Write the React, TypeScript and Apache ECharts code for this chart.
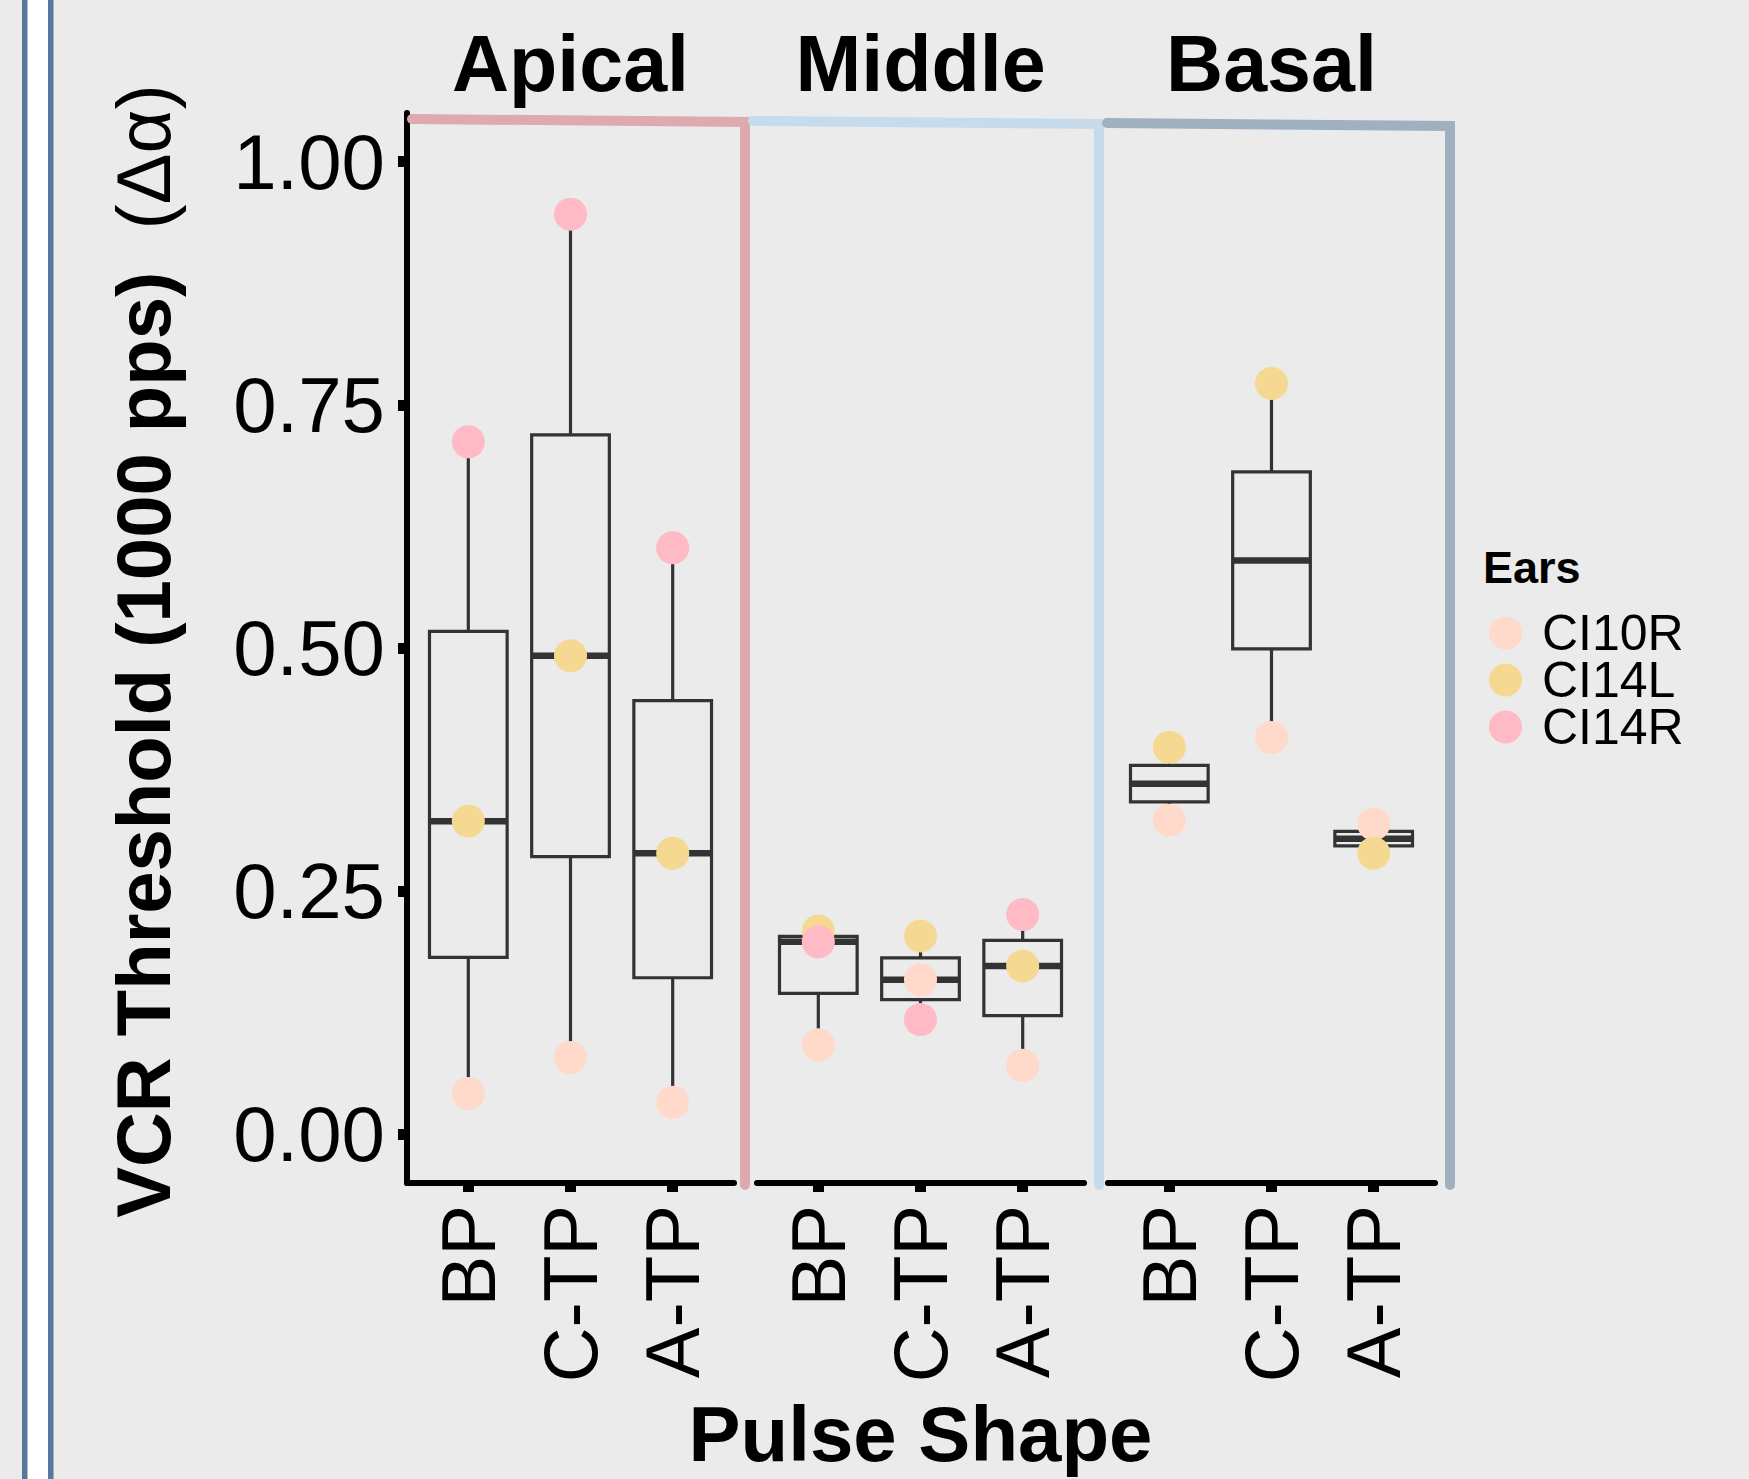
import React, { useEffect, useRef } from 'react';
import * as echarts from 'echarts';

// ---------- data ----------
const regions = ['Apical', 'Middle', 'Basal'];
const shapes = ['BP', 'C-TP', 'A-TP'];
const ears = ['CI10R', 'CI14L', 'CI14R'];
const earColors = ['#FFD9C9', '#F5D992', '#FFBAC5'];
const yTicks = [0, 0.25, 0.5, 0.75, 1];

// values by [region][pulse shape]
const ci10r = [
  [0.042, 0.079, 0.033],
  [0.092, 0.159, 0.071],
  [0.323, 0.408, 0.319],
];
const ci14l = [
  [0.322, 0.492, 0.289],
  [0.209, 0.204, 0.173],
  [0.398, 0.772, 0.289],
];
const ci14r = [
  [0.712, 0.946, 0.603],
  [0.198, 0.118, 0.226],
  [null, null, null],
];
const earValues = [ci10r, ci14l, ci14r];

// ---------- layout / style ----------
const W = 1749;
const H = 1479;
const FONT = '"Liberation Sans", Arial, Helvetica, sans-serif';
const panelLeft = [407, 757, 1108];
const panelWidth = 327;
const gridTop = 113;
const gridHeight = 1070;
const stripColors = ['#DFA9B2', '#C6DCEC', '#9FB0C1'];
const BOX_W = 0.76;

function quantile(sorted: number[], p: number) {
  const h = (sorted.length - 1) * p;
  const lo = Math.floor(h);
  const hi = Math.min(lo + 1, sorted.length - 1);
  return sorted[lo] + (h - lo) * (sorted[hi] - sorted[lo]);
}

function boxStats(r: number, s: number) {
  const vals = earValues
    .map((arr) => arr[r][s])
    .filter((v) => v !== null && v !== undefined) as number[];
  vals.sort((a, b) => a - b);
  return [
    s + 1,
    vals[0],
    quantile(vals, 0.25),
    quantile(vals, 0.5),
    quantile(vals, 0.75),
    vals[vals.length - 1],
  ];
}

function renderBox(params: any, api: any) {
  const x = api.value(0);
  const lo = api.coord([x, api.value(1)]);
  const q1 = api.coord([x, api.value(2)]);
  const md = api.coord([x, api.value(3)]);
  const q3 = api.coord([x, api.value(4)]);
  const hi = api.coord([x, api.value(5)]);
  const hw = api.size([BOX_W, 0])[0] / 2;
  const cx = md[0];
  const stroke = '#333333';
  const lw = 3.2;
  return {
    type: 'group',
    children: [
      { type: 'line', shape: { x1: cx, y1: q3[1], x2: cx, y2: hi[1] }, style: { stroke, lineWidth: lw } },
      { type: 'line', shape: { x1: cx, y1: q1[1], x2: cx, y2: lo[1] }, style: { stroke, lineWidth: lw } },
      {
        type: 'rect',
        shape: { x: cx - hw, y: q3[1], width: 2 * hw, height: q1[1] - q3[1] },
        style: { fill: 'none', stroke, lineWidth: lw },
      },
      { type: 'line', shape: { x1: cx - hw, y1: md[1], x2: cx + hw, y2: md[1] }, style: { stroke, lineWidth: 6.5 } },
    ],
  };
}

export default function App() {
  const ref = useRef<HTMLDivElement>(null);

  useEffect(() => {
    if (!ref.current) return;
    const chart = echarts.init(ref.current, null, { renderer: 'svg' });

    const grids = panelLeft.map((l) => ({ left: l, top: gridTop, width: panelWidth, height: gridHeight }));

    const xAxes = regions.map((_, i) => ({
      type: 'value',
      gridIndex: i,
      min: 0.4,
      max: 3.6,
      splitLine: { show: false },
      axisLine: { show: true, onZero: false, lineStyle: { color: '#000', width: 6 } },
      axisTick: { show: true, customValues: [1, 2, 3], length: 9, lineStyle: { color: '#000', width: 11 } },
      axisLabel: {
        show: true,
        customValues: [1, 2, 3],
        formatter: (v: number) => shapes[Math.round(v) - 1] || '',
        rotate: 90,
        fontSize: 76,
        color: '#000',
        fontFamily: FONT,
        margin: 22,
      },
    }));

    const yAxes = regions.map((_, i) => ({
      type: 'value',
      gridIndex: i,
      min: -0.05,
      max: 1.05,
      show: i === 0,
      splitLine: { show: false },
      axisLine: { show: i === 0, onZero: false, lineStyle: { color: '#000', width: 6 } },
      axisTick: { show: i === 0, customValues: yTicks, length: 9, lineStyle: { color: '#000', width: 11 } },
      axisLabel: {
        show: i === 0,
        customValues: yTicks,
        formatter: (v: number) => v.toFixed(2),
        fontSize: 78,
        color: '#000',
        fontFamily: FONT,
        margin: 22,
      },
    }));

    const series: any[] = [];
    regions.forEach((_, i) => {
      series.push({
        type: 'custom',
        xAxisIndex: i,
        yAxisIndex: i,
        silent: true,
        z: 2,
        renderItem: renderBox,
        encode: { x: 0, y: [1, 2, 3, 4, 5] },
        data: shapes.map((_, s) => boxStats(i, s)),
      });
    });
    regions.forEach((_, i) => {
      ears.forEach((ear, e) => {
        const data = shapes
          .map((_, s) => [s + 1, earValues[e][i][s]])
          .filter((d) => d[1] !== null && d[1] !== undefined);
        series.push({
          type: 'scatter',
          name: ear,
          xAxisIndex: i,
          yAxisIndex: i,
          z: 3,
          symbol: 'circle',
          symbolSize: 33,
          itemStyle: { color: earColors[e], opacity: 1 },
          data,
        });
      });
    });

    const graphics: any[] = [
      { type: 'rect', shape: { x: 27, y: 0, width: 21, height: H }, style: { fill: '#FFFFFF' } },
      { type: 'rect', shape: { x: 22, y: 0, width: 5.5, height: H }, style: { fill: '#57779F' } },
      { type: 'rect', shape: { x: 48, y: 0, width: 5.5, height: H }, style: { fill: '#57779F' } },
    ];

    // strip frame lines
    const frameLines = [
      [[412, 119], [745, 122], [745, 1185]],
      [[753, 121], [1099, 124], [1099, 1185]],
      [[1107, 123], [1450, 126], [1450, 1185]],
    ];
    frameLines.forEach((pts, i) => {
      graphics.push({
        type: 'polyline',
        shape: { points: pts },
        style: { stroke: stripColors[i], lineWidth: 10, lineCap: 'round', lineJoin: 'miter', fill: null },
        z: 1,
      });
    });

    regions.forEach((r, i) => {
      graphics.push({
        type: 'text',
        x: panelLeft[i] + panelWidth / 2,
        y: 63,
        style: {
          text: r,
          fontSize: 79,
          fontWeight: 'bold',
          fontFamily: FONT,
          fill: '#000',
          align: 'center',
          verticalAlign: 'middle',
          textAlign: 'center',
          textVerticalAlign: 'middle',
        },
      });
    });

    graphics.push({
      type: 'text',
      x: panelLeft[1] + panelWidth / 2,
      y: 1434,
      style: {
        text: 'Pulse Shape',
        fontSize: 78,
        fontWeight: 'bold',
        fontFamily: FONT,
        fill: '#000',
        align: 'center',
        verticalAlign: 'middle',
        textAlign: 'center',
        textVerticalAlign: 'middle',
      },
    });

    graphics.push({
      type: 'text',
      x: 143,
      y: 651,
      rotation: Math.PI / 2,
      style: {
        text: '{b|VCR Threshold (1000 pps)}{r|  (Δα)}',
        rich: {
          b: { fontSize: 76, fontWeight: 'bold', fontFamily: FONT, fill: '#000' },
          r: { fontSize: 76, fontWeight: 'normal', fontFamily: FONT, fill: '#000' },
        },
        fill: '#000',
        align: 'center',
        verticalAlign: 'middle',
        textAlign: 'center',
        textVerticalAlign: 'middle',
      },
    });

    graphics.push({
      type: 'text',
      x: 1483,
      y: 567,
      style: {
        text: 'Ears',
        fontSize: 45,
        fontWeight: 'bold',
        fontFamily: FONT,
        fill: '#000',
        align: 'left',
        verticalAlign: 'middle',
        textAlign: 'left',
        textVerticalAlign: 'middle',
      },
    });

    chart.setOption({
      animation: false,
      backgroundColor: '#EBEBEB',
      grid: grids,
      xAxis: xAxes,
      yAxis: yAxes,
      legend: {
        data: ears,
        orient: 'vertical',
        left: 1484,
        top: 603,
        itemWidth: 33,
        itemHeight: 33,
        itemGap: -3,
        icon: 'circle',
        selectedMode: false,
        textStyle: { fontSize: 50, color: '#000', fontFamily: FONT, padding: [0, 0, 0, 15] },
      },
      graphic: graphics,
      series,
    });

    return () => chart.dispose();
  }, []);

  return <div ref={ref} style={{ position: 'absolute', left: 0, top: 0, width: W, height: H }} />;
}
